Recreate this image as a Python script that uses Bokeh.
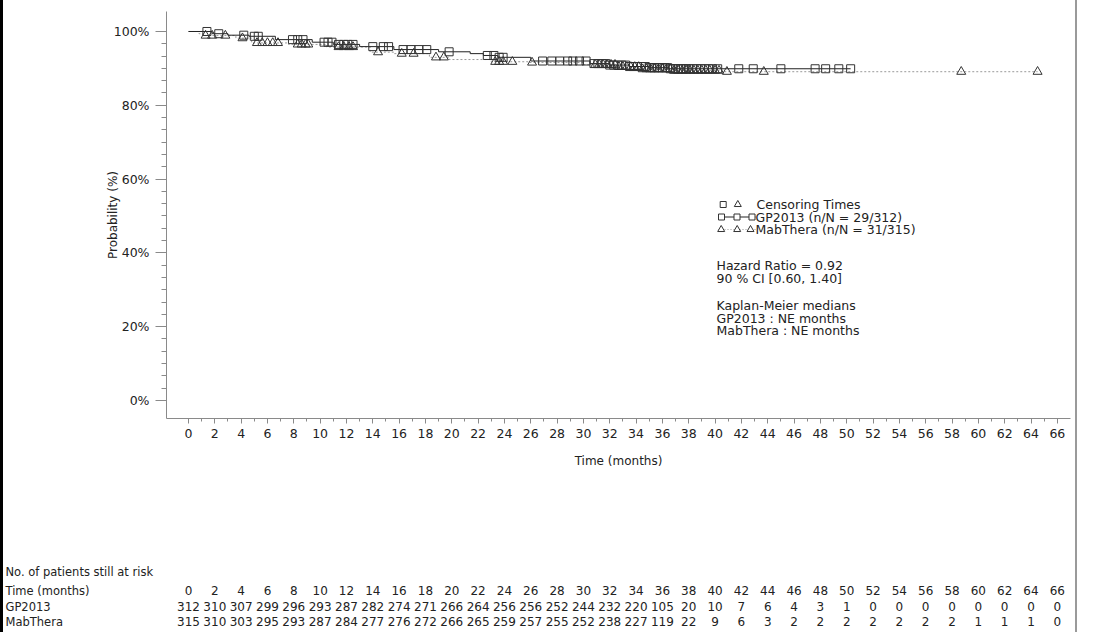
import numpy as np
from bokeh.plotting import figure
from bokeh.models import Range1d, FixedTicker, CustomJSTickFormatter
from bokeh.embed import file_html
from bokeh.resources import INLINE
from bokeh.core.properties import value

# ---------------- data ----------------
gp_event_times = [0, 1.8, 3.0, 4.6, 6.6, 9.4, 11.0, 13.0, 15.6, 19.0, 21.4, 22.4, 23.5, 26.0, 30.5, 32.0, 33.5, 35.0, 36.5]
gp_surv = [100, 99.4, 99.0, 98.7, 97.8, 97.1, 96.5, 95.9, 95.1, 94.5, 94.0, 93.5, 93.0, 92.0, 91.3, 90.9, 90.5, 90.2, 89.9]
gp_last = 50.3
gp_censor = [1.4, 2.3, 4.2, 5.0, 5.3, 7.9, 8.3, 8.7, 10.3, 10.6, 10.9, 11.4, 11.8, 12.1, 12.5, 14.0, 14.8, 15.2,
             16.3, 16.9, 17.5, 18.1, 19.8, 22.7, 23.2, 23.6, 23.9, 26.9, 27.6, 28.2, 28.8, 29.2, 29.7, 30.2,
             30.8, 31.1, 31.4, 31.7, 32.0, 32.3, 32.6, 32.9, 33.2, 33.5, 33.8, 34.1, 34.4, 34.7, 35.0, 35.2,
             35.4, 35.6, 35.8, 36.0, 36.2, 36.4, 36.6, 36.8, 37.0, 37.2, 37.4, 37.6, 37.8, 38.0, 38.3, 38.6,
             38.9, 39.2, 39.5, 39.8, 40.2, 41.8, 42.9, 45.0, 47.6, 48.4, 49.4, 50.3]

mab_event_times = [0, 0.8, 1.1, 3.6, 4.8, 7.6, 10.5, 13.8, 15.6, 18.3, 19.8, 23.0, 25.8, 30.0, 32.5, 34.5, 36.8, 40.5]
mab_surv = [100, 99.4, 98.9, 98.2, 96.9, 96.5, 95.8, 94.4, 94.0, 93.0, 92.4, 91.8, 91.6, 91.0, 90.4, 89.8, 89.4, 89.1]
mab_last = 64.5
mab_censor = [1.3, 1.8, 2.8, 4.1, 5.2, 5.6, 6.0, 6.4, 6.8, 8.3, 8.6, 8.9, 9.1, 11.4, 11.8, 12.2, 12.5, 14.4,
              16.2, 17.1, 18.8, 19.4, 23.3, 23.6, 23.9, 24.6, 26.1, 30.9, 31.2, 31.5, 31.8, 32.1, 32.4, 32.7,
              33.0, 33.3, 33.6, 33.9, 34.2, 34.5, 34.8, 35.1, 35.4, 35.7, 36.0, 36.3, 36.6, 36.9, 37.2, 37.5,
              37.8, 38.1, 38.4, 38.7, 39.0, 39.3, 39.6, 40.0, 40.3, 40.9, 43.7, 58.7, 64.5]

risk_times = list(range(0, 67, 2))
gp_risk = [312, 310, 307, 299, 296, 293, 287, 282, 274, 271, 266, 264, 256, 256, 252, 244, 232, 220, 105, 20,
           10, 7, 6, 4, 3, 1, 0, 0, 0, 0, 0, 0, 0, 0]
mab_risk = [315, 310, 303, 295, 293, 287, 284, 277, 276, 272, 266, 265, 259, 257, 255, 252, 238, 227, 119, 22,
            9, 6, 3, 2, 2, 2, 2, 2, 2, 2, 1, 1, 1, 0]

legend_texts = ["Censoring Times", "GP2013 (n/N = 29/312)", "MabThera (n/N = 31/315)"]
stats_texts = ["Hazard Ratio = 0.92", "90 % CI [0.60, 1.40]", "Kaplan-Meier medians",
               "GP2013 : NE months", "MabThera : NE months"]
risk_labels = ["No. of patients still at risk", "Time (months)", "GP2013", "MabThera"]

# ---------------- layout constants ----------------
FONT = "DejaVu Sans"
BL = 3                       # left border width of the whole picture
W = 1077
MAIN_H = 480
FRAME_L, FRAME_T = 166 - BL, 11
X0, X1 = -1.67, 67.0
Y0, Y1 = -4.9, 105.42
FRAME_W = 904
FRAME_H = 407
SX = FRAME_W / (X1 - X0)
SY = FRAME_H / (Y1 - Y0)
BORDER_STYLE = {"border-left": f"{BL}px solid #000000", "border-right": "2px solid #9a9a9a"}

def tx(page_x):
    return X0 + (page_x - BL - FRAME_L) / SX

def vy(page_y):
    return Y1 - (page_y - FRAME_T) / SY

def surv_at(times, surv, t):
    i = np.searchsorted(np.array(times), t, side="right") - 1
    return surv[i]

p = figure(width=W, height=MAIN_H, x_range=Range1d(X0, X1), y_range=Range1d(Y0, Y1),
           output_backend="svg", toolbar_location=None,
           min_border_left=FRAME_L, min_border_top=FRAME_T,
           min_border_right=W - FRAME_L - FRAME_W, min_border_bottom=MAIN_H - FRAME_T - FRAME_H,
           styles=BORDER_STYLE)
p.outline_line_color = None
p.grid.visible = False
p.background_fill_color = "white"
p.border_fill_color = "white"

AX_COL = "#8a8a8a"
TXT_COL = "#222222"

# x axis
p.xaxis.ticker = FixedTicker(ticks=risk_times, minor_ticks=list(range(0, 67)))
p.xaxis.axis_label = "Time (months)"
p.xaxis.major_tick_out = 5
p.xaxis.major_tick_in = 0
p.xaxis.minor_tick_out = 3
p.xaxis.minor_tick_in = 0
p.xaxis.major_label_standoff = 5
p.xaxis.axis_label_standoff = 13

# y axis
p.yaxis.ticker = FixedTicker(ticks=[0, 20, 40, 60, 80, 100],
                             minor_ticks=[i * 10 / 3 for i in range(0, 31)])
p.yaxis.formatter = CustomJSTickFormatter(code="return tick.toFixed(0) + '%';")
p.yaxis.axis_label = "Probability (%)"
p.yaxis.major_tick_out = 11
p.yaxis.major_tick_in = 0
p.yaxis.minor_tick_out = 5
p.yaxis.minor_tick_in = 0
p.yaxis.major_label_standoff = 6
p.yaxis.axis_label_standoff = -9

for ax in (p.xaxis, p.yaxis):
    ax.axis_line_color = AX_COL
    ax.major_tick_line_color = AX_COL
    ax.minor_tick_line_color = AX_COL
    ax.major_label_text_font = FONT
    ax.major_label_text_font_size = "12.5px"
    ax.major_label_text_color = TXT_COL
    ax.axis_label_text_font = FONT
    ax.axis_label_text_font_size = "12px"
    ax.axis_label_text_font_style = "normal"
    ax.axis_label_text_color = TXT_COL

# curves
MAB_COL = "#9a9a9a"
GP_COL = "#222222"
p.step(mab_event_times + [mab_last], mab_surv + [mab_surv[-1]], mode="after",
       line_color=MAB_COL, line_width=1, line_dash="2 2")
p.step(gp_event_times + [gp_last], gp_surv + [gp_surv[-1]], mode="after",
       line_color=GP_COL, line_width=1)

mab_cy = [surv_at(mab_event_times, mab_surv, t) for t in mab_censor]
gp_cy = [surv_at(gp_event_times, gp_surv, t) for t in gp_censor]
p.scatter(mab_censor, mab_cy, marker="triangle", size=9, fill_color=None,
          line_color="#333333", line_width=1)
p.scatter(gp_censor, gp_cy, marker="square", size=8, fill_color=None,
          line_color="#333333", line_width=1)

# legend (drawn inside the plot)
row_y = [204, 216.5, 229]
p.scatter([tx(722.7)], [vy(row_y[0])], marker="square", size=6, fill_color=None, line_color="#333333")
p.scatter([tx(737.3)], [vy(row_y[0])], marker="triangle", size=7, fill_color=None, line_color="#333333")
p.line([tx(718), tx(755)], [vy(row_y[1])] * 2, line_color=GP_COL, line_width=1)
p.scatter([tx(721), tx(736.5), tx(751.5)], [vy(row_y[1])] * 3, marker="square", size=6,
          fill_color="white", line_color="#333333")
p.line([tx(718), tx(755)], [vy(row_y[2])] * 2, line_color=MAB_COL, line_width=1, line_dash="1 2")
p.scatter([tx(720.7), tx(736.7), tx(750)], [vy(row_y[2])] * 3, marker="triangle", size=7,
          fill_color="white", line_color="#333333")
p.text([tx(756), tx(755), tx(755)], [vy(y) for y in row_y], text=legend_texts,
       text_font=value(FONT), text_font_size="12.5px", text_baseline="middle",
       text_align="left", text_color=TXT_COL)

stats_y = [265, 278, 305, 317.5, 330]
p.text([tx(716)] * len(stats_texts), [vy(y) for y in stats_y], text=stats_texts,
       text_font=value(FONT), text_font_size="12.5px", text_baseline="middle",
       text_align="left", text_color=TXT_COL)

# ---------------- risk table (separate root, frame spans its full width) ----------------
RISK_H = 152
RISK_TOP_PAGE = MAIN_H
RX0 = tx(BL)
RX1 = tx(BL + W)
r = figure(width=W, height=RISK_H, x_range=Range1d(RX0, RX1), y_range=Range1d(RISK_H, 0),
           output_backend="svg", toolbar_location=None,
           min_border_left=0, min_border_right=0, min_border_top=0, min_border_bottom=0,
           styles=BORDER_STYLE)
r.axis.visible = False
r.grid.visible = False
r.outline_line_color = None
r.background_fill_color = "white"
r.border_fill_color = "white"

rows_page_y = [571, 590, 606, 621]
ry = [y - RISK_TOP_PAGE for y in rows_page_y]
r.text([tx(5)] * 4, ry, text=risk_labels, text_font=value(FONT), text_font_size="11.5px",
       text_baseline="middle", text_align="left", text_color=TXT_COL)
for vals, yy in ((risk_times, ry[1]), (gp_risk, ry[2]), (mab_risk, ry[3])):
    r.text(risk_times, [yy] * len(risk_times), text=[str(v) for v in vals],
           text_font=value(FONT), text_font_size="12px", text_baseline="middle",
           text_align="center", text_color=TXT_COL)

open("out.html", "w").write(file_html([p, r], INLINE))
